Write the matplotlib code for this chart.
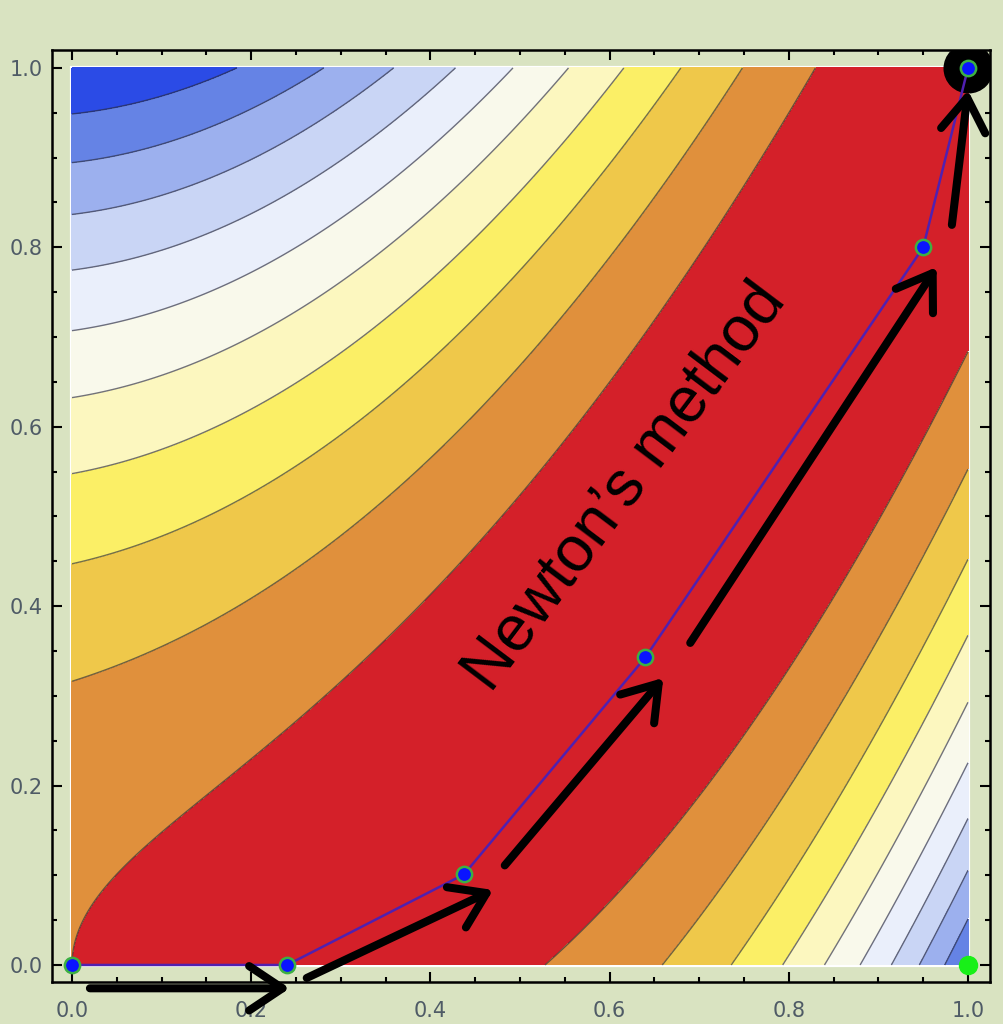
import numpy as np
import matplotlib.pyplot as plt
from matplotlib.patches import Rectangle
from matplotlib.ticker import MultipleLocator

# objective being minimised: f(x, y) = (1 - x)^2 + b * (y - x^2)^2
b_coef = 10.0
grid_n = 600

# filled contour bands (f from 0 up to 11 at the top-left corner)
levels = [0, 1, 2, 3, 4, 5, 6, 7, 8, 9, 10, 12]
line_levels = [1, 2, 3, 4, 5, 6, 7, 8, 9, 10]
band_colors = ['#d42029', '#e0903c', '#efc84a', '#fbef66', '#fcf7bf',
               '#f9f9eb', '#eaeffb', '#c9d5f5', '#9cb0ee', '#6583e5',
               '#2b4be6']

# damped Newton iterates from (0, 0)
iter_x = [0.0, 0.24, 0.4375, 0.64, 0.95, 1.0]
iter_y = [0.0, 0.0, 0.101, 0.343, 0.80, 1.0]

# pure Newton step and the minimiser
pure_x, pure_y = [1.0], [0.0]
min_x, min_y = [1.0], [1.0]

# hand drawn arrows: tail -> head (data coords)
arrow_tails = [(0.020, -0.026), (0.262, -0.0145), (0.483, 0.111),
               (0.690, 0.359), (0.982, 0.825)]
arrow_heads = [(0.243, -0.026), (0.470, 0.0836), (0.660, 0.320),
               (0.965, 0.778), (1.0, 0.975)]

tick_vals = [0.0, 0.2, 0.4, 0.6, 0.8, 1.0]
tick_labels = ['0.0', '0.2', '0.4', '0.6', '0.8', '1.0']

bg = '#d9e3c1'

fig = plt.figure(figsize=(10.04, 10.24), dpi=100, facecolor=bg)
ax = fig.add_axes([0.0518, 0.0410, 0.9343, 0.9102])
ax.set_facecolor(bg)

xs = np.linspace(0, 1, grid_n)
ys = np.linspace(0, 1, grid_n)
X, Y = np.meshgrid(xs, ys)
Z = (1 - X) ** 2 + b_coef * (Y - X ** 2) ** 2

# thin white rim around the plot region
ax.add_patch(Rectangle((0, 0), 1, 1, fill=False, ec='white', lw=3, zorder=0.5))

ax.contourf(X, Y, Z, levels=levels, colors=band_colors, zorder=1)
ax.contour(X, Y, Z, levels=line_levels, colors='#2a2a3a', linewidths=1.0,
           alpha=0.65, zorder=2)

# minimiser and pure Newton point
ax.plot(min_x, min_y, 'o', color='black', ms=35, zorder=3)
ax.plot(pure_x, pure_y, 'o', color='#18f018', ms=13, mec='#18f018', zorder=4,
        clip_on=False)

# iteration path
ax.plot(iter_x, iter_y, '-', color='#5020b0', lw=1.8, zorder=5)
ax.plot(iter_x, iter_y, 'o', color='#0a14ff', ms=11, mec='#3cb043', mew=1.8,
        zorder=6)

for tail, head in zip(arrow_tails, arrow_heads):
    ax.annotate('', xy=head, xytext=tail, xycoords='data', textcoords='data',
                annotation_clip=False, zorder=7,
                arrowprops=dict(arrowstyle='->,head_length=1.2,head_width=0.8',
                                mutation_scale=20, lw=5.8, color='black',
                                shrinkA=0, shrinkB=0))

ax.text(0.617, 0.533, 'Newton\u2019s method', rotation=53, ha='center',
        va='center', fontsize=46, family='Liberation Sans', color='black',
        zorder=8)

ax.set_xlim(-0.0223, 1.0246)
ax.set_ylim(-0.019, 1.020)

ax.set_xticks(tick_vals)
ax.set_xticklabels(tick_labels)
ax.set_yticks(tick_vals)
ax.set_yticklabels(tick_labels)
ax.xaxis.set_minor_locator(MultipleLocator(0.05))
ax.yaxis.set_minor_locator(MultipleLocator(0.05))
ax.tick_params(which='both', direction='in', top=True, right=True,
               width=1.5, color='black', labelcolor='#4f5b66', labelsize=15)
ax.tick_params(which='major', length=7)
ax.tick_params(which='minor', length=3.6)
ax.tick_params(axis='x', which='major', pad=14)
ax.tick_params(axis='y', which='major', pad=6.5)
for sp in ax.spines.values():
    sp.set_linewidth(1.8)

fig.savefig('out.png', dpi=100, facecolor=bg)
